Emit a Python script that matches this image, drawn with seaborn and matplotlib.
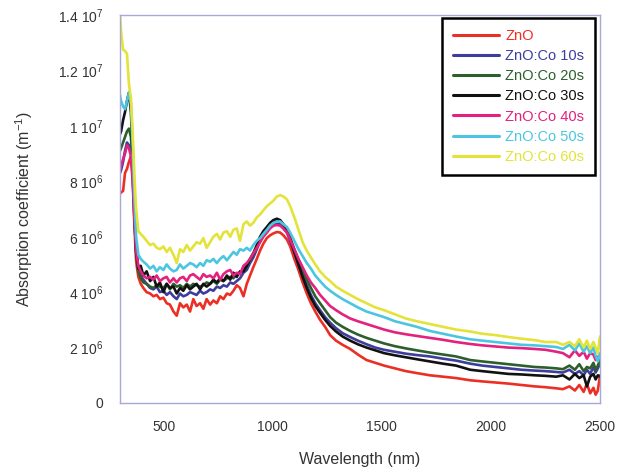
import numpy as np
import pandas as pd
import matplotlib
matplotlib.use("Agg")
import matplotlib.pyplot as plt
import seaborn as sns

# ---------------- data (values in units of 1e6 m^-1) ----------------
wavelength = [300, 305, 314, 323, 332, 341, 350, 358, 366, 374,
              384, 395, 407, 422, 438, 453, 468, 483, 499, 514,
              529, 545, 560, 575, 590, 606, 621, 636, 651, 667,
              682, 697, 713, 728, 744, 759, 774, 790, 805, 820,
              835, 850, 866, 881, 896, 911, 927, 942, 957, 973,
              988, 1003, 1019, 1034, 1049, 1065, 1080, 1099, 1118, 1137,
              1156, 1175, 1195, 1217, 1240, 1263, 1290, 1320, 1355, 1390,
              1430, 1470, 1510, 1560, 1610, 1660, 1720, 1780, 1840, 1905,
              1960, 2020, 2080, 2140, 2200, 2250, 2300, 2330, 2360, 2385,
              2405, 2425, 2440, 2455, 2470, 2480, 2490, 2500]

zno = [7.55, 7.6, 7.65, 8.3, 8.45, 8.7, 8.9, 8.2, 6.4, 5.1,
       4.55, 4.3, 4.15, 4.0, 3.95, 3.85, 3.9, 3.75, 3.8, 3.6,
       3.55, 3.3, 3.15, 3.6, 3.45, 3.55, 3.3, 3.75, 3.5, 3.6,
       3.4, 3.75, 3.55, 3.7, 3.6, 3.85, 3.75, 3.95, 3.9, 4.05,
       4.25, 4.15, 3.85, 4.3, 4.6, 4.9, 5.2, 5.5, 5.75, 5.95,
       6.05, 6.12, 6.17, 6.15, 6.05, 5.9, 5.65, 5.2, 4.8, 4.35,
       3.95, 3.6, 3.3, 3.0, 2.75, 2.45, 2.25, 2.1, 1.95, 1.75,
       1.55, 1.45, 1.35, 1.25, 1.15, 1.08, 1.0, 0.95, 0.9, 0.82,
       0.78, 0.74, 0.7, 0.65, 0.6, 0.57, 0.53, 0.5, 0.6, 0.45,
       0.65, 0.4, 0.7, 0.35, 0.55, 0.3, 0.45, 1.0]

co10 = [8.3, 8.4, 8.7, 9.1, 9.4, 9.3, 9.2, 8.3, 6.7, 5.4,
        4.85, 4.6, 4.45, 4.3, 4.15, 4.1, 4.2, 4.0, 4.05, 3.9,
        4.0, 3.85, 3.75, 3.95, 3.85, 3.9, 4.0, 3.95, 3.9, 4.05,
        3.95, 4.0, 4.1, 4.05, 4.2, 4.15, 4.25, 4.2, 4.35, 4.3,
        4.4, 4.5, 4.7, 4.8, 5.05, 5.25, 5.55, 5.85, 6.05, 6.2,
        6.35, 6.45, 6.47, 6.45, 6.3, 6.15, 5.85, 5.45, 5.0, 4.6,
        4.25, 3.9, 3.6, 3.35, 3.1, 2.9, 2.7, 2.52, 2.38, 2.25,
        2.12, 2.0, 1.92, 1.85, 1.78, 1.73, 1.68, 1.6, 1.53, 1.42,
        1.35, 1.3, 1.25, 1.2, 1.17, 1.15, 1.12, 1.1, 1.2, 1.05,
        1.15, 1.0, 1.2, 1.05, 1.3, 1.1, 1.25, 1.4]

co20 = [9.1, 9.2, 9.4, 9.6, 9.8, 9.9, 9.6, 8.6, 6.8, 5.4,
        4.75, 4.5, 4.35, 4.3, 4.2, 4.15, 4.25, 4.2, 4.15, 4.3,
        4.1, 4.3, 4.2, 4.25, 4.15, 4.3, 4.2, 4.3, 4.25, 4.2,
        4.25, 4.35, 4.3, 4.4, 4.3, 4.45, 4.4, 4.5, 4.55, 4.5,
        4.65, 4.7, 4.8, 4.95, 5.15, 5.35, 5.6, 5.9, 6.1, 6.25,
        6.4, 6.5, 6.58, 6.55, 6.4, 6.25, 5.95, 5.55, 5.15, 4.8,
        4.45, 4.15, 3.85, 3.6, 3.35, 3.1, 2.9, 2.75, 2.6, 2.47,
        2.35, 2.25, 2.15, 2.05, 1.97, 1.9, 1.82, 1.75, 1.68, 1.55,
        1.5, 1.45, 1.4, 1.35, 1.3, 1.28, 1.25, 1.22, 1.35, 1.2,
        1.4, 1.15, 1.3, 1.25, 1.45, 1.2, 1.35, 1.55]

co30 = [9.7, 9.8, 10.2, 10.5, 10.9, 11.2, 10.5, 9.0, 7.0, 5.5,
        4.85, 4.95, 4.6, 4.75, 4.4, 4.55, 4.2, 4.35, 4.0, 4.3,
        4.15, 4.2, 3.95, 4.15, 4.05, 4.25, 4.1, 4.2, 4.3, 4.1,
        4.3, 4.2, 4.3, 4.45, 4.35, 4.5, 4.4, 4.6, 4.45, 4.7,
        4.55, 4.75, 4.75, 4.95, 5.2, 5.4, 5.7, 6.0, 6.2, 6.35,
        6.5, 6.6, 6.65, 6.6, 6.45, 6.25, 5.95, 5.45, 5.0, 4.55,
        4.15, 3.8, 3.5, 3.25, 3.0, 2.78, 2.58, 2.4, 2.25, 2.12,
        2.0, 1.9, 1.8, 1.72, 1.65, 1.58, 1.5, 1.42, 1.35, 1.2,
        1.15, 1.1, 1.05, 1.03, 1.0, 0.98, 0.95, 1.0, 0.85, 1.05,
        0.9, 1.0, 0.6, 0.95, 1.05, 0.85, 1.0, 0.95]

co40 = [8.4, 8.55, 8.8, 9.0, 9.3, 9.2, 8.9, 8.0, 6.6, 5.5,
        4.95, 4.75, 4.6, 4.5, 4.55, 4.45, 4.6, 4.4, 4.5, 4.55,
        4.35, 4.5, 4.35, 4.5, 4.55, 4.4, 4.6, 4.65, 4.55, 4.45,
        4.65, 4.55, 4.6, 4.5, 4.7, 4.45, 4.65, 4.75, 4.8, 4.6,
        4.7, 4.65, 4.95, 5.05, 5.2, 5.4, 5.6, 5.8, 6.0, 6.15,
        6.3, 6.4, 6.42, 6.4, 6.3, 6.15, 5.9, 5.55, 5.2, 4.9,
        4.6, 4.35, 4.15, 3.9, 3.7, 3.5, 3.35, 3.2, 3.05, 2.95,
        2.85, 2.75, 2.65, 2.55, 2.48, 2.42, 2.35, 2.28, 2.2, 2.13,
        2.08, 2.04, 2.0, 1.98, 1.95, 1.92, 1.85, 1.8, 1.65, 1.9,
        1.7, 1.85, 1.6, 1.8, 1.75, 1.55, 1.65, 1.75]

co50 = [11.1, 10.9, 10.7, 10.6, 10.9, 11.2, 10.8, 9.3, 7.4, 6.0,
        5.35, 5.2, 5.1, 5.0, 4.85, 4.95, 4.75, 4.9, 4.8, 5.0,
        4.85, 4.75, 4.8, 5.0, 4.85, 4.95, 5.05, 5.0, 4.9, 5.05,
        4.95, 5.15, 5.1, 5.2, 5.05, 5.2, 5.3, 5.15, 5.3, 5.45,
        5.35, 5.55, 5.5, 5.6, 5.5, 5.7, 5.85, 5.95, 6.1, 6.25,
        6.4, 6.5, 6.55, 6.55, 6.45, 6.35, 6.15, 5.85, 5.55, 5.3,
        5.05, 4.85, 4.6, 4.4, 4.2, 4.05, 3.9, 3.75, 3.6, 3.45,
        3.3, 3.2, 3.1, 2.95, 2.85, 2.75, 2.6, 2.5, 2.4, 2.3,
        2.25, 2.2, 2.15, 2.1, 2.08, 2.05, 2.02, 1.95, 2.1, 1.9,
        2.15, 1.85, 2.05, 1.8, 2.0, 1.7, 1.5, 1.8]

co60 = [14.0, 13.4, 12.75, 12.7, 12.6, 11.5, 11.0, 9.8, 8.2, 7.0,
        6.2, 6.1, 6.0, 5.85, 5.7, 5.75, 5.6, 5.55, 5.65, 5.45,
        5.6, 5.35, 5.05, 5.55, 5.45, 5.7, 5.5, 5.65, 5.8, 5.75,
        5.95, 5.6, 5.8, 6.0, 6.1, 5.9, 6.15, 6.2, 6.0, 6.25,
        6.3, 5.85, 6.45, 6.55, 6.4, 6.5, 6.7, 6.8, 6.95, 7.1,
        7.2, 7.3, 7.45, 7.5, 7.45, 7.35, 7.1, 6.7, 6.25, 5.8,
        5.5, 5.25, 5.0, 4.75, 4.55, 4.4, 4.2, 4.05, 3.9, 3.75,
        3.6, 3.45, 3.35, 3.2, 3.05, 2.95, 2.85, 2.75, 2.65, 2.58,
        2.5, 2.45, 2.38, 2.32, 2.27, 2.2, 2.2, 2.1, 2.2, 2.05,
        2.3, 2.0, 2.25, 1.95, 2.2, 2.0, 1.8, 2.4]

series_names = ["ZnO", "ZnO:Co 10s", "ZnO:Co 20s", "ZnO:Co 30s",
                "ZnO:Co 40s", "ZnO:Co 50s", "ZnO:Co 60s"]
series_values = [zno, co10, co20, co30, co40, co50, co60]
series_colors = ["#ec2f24", "#3d3d9e", "#2c5f2c", "#111111",
                 "#e3217e", "#4cc6e0", "#e3e33a"]

x_ticks = [500, 1000, 1500, 2000, 2500]
y_ticks = [0, 2e6, 4e6, 6e6, 8e6, 1e7, 1.2e7, 1.4e7]
y_tick_labels = ["0", r"2 10$^{6}$", r"4 10$^{6}$", r"6 10$^{6}$",
                 r"8 10$^{6}$", r"1 10$^{7}$", r"1.2 10$^{7}$", r"1.4 10$^{7}$"]

# ---------------- build long table ----------------
frames = []
for name, vals in zip(series_names, series_values):
    frames.append(pd.DataFrame({"Wavelength": wavelength,
                                "Absorption": np.array(vals) * 1e6,
                                "Sample": name}))
df = pd.concat(frames, ignore_index=True)

# ---------------- style ----------------
sns.set_style("white")
plt.rcParams["font.family"] = ["Liberation Sans", "DejaVu Sans"]
plt.rcParams["mathtext.fontset"] = "custom"
plt.rcParams["mathtext.rm"] = "Liberation Sans"
plt.rcParams["mathtext.it"] = "Liberation Sans"
plt.rcParams["mathtext.default"] = "regular"

fig = plt.figure(figsize=(6.18, 4.70), dpi=100)
ax = fig.add_axes([120 / 618, 67 / 470, 480 / 618, 388 / 470])

palette = dict(zip(series_names, series_colors))
sns.lineplot(data=df, x="Wavelength", y="Absorption", hue="Sample",
             hue_order=series_names, palette=palette, linewidth=1.9,
             estimator=None, sort=False, ax=ax)

ax.set_xlim(300, 2500)
ax.set_ylim(0, 1.4e7)
ax.set_xticks(x_ticks)
ax.set_xticklabels([str(t) for t in x_ticks])
ax.set_yticks(y_ticks)
ax.set_yticklabels(y_tick_labels)
ax.tick_params(axis="both", length=0, labelsize=10, colors="#333333")
ax.tick_params(axis="y", pad=12)
ax.tick_params(axis="x", pad=12)

for sp in ax.spines.values():
    sp.set_color("#a8a8d8")
    sp.set_linewidth(1.0)

ax.set_xlabel("Wavelength (nm)", fontsize=11.5, color="#333333", labelpad=13)
ax.set_ylabel(r"Absorption coefficient (m$^{-1}$)", fontsize=11.5,
              color="#333333", labelpad=16)

handles, labels = ax.get_legend_handles_labels()
leg = ax.legend(handles, labels, loc="upper right",
                bbox_to_anchor=(0.99, 0.992), borderaxespad=0,
                fontsize=10.5, handlelength=3.2, handletextpad=0.4,
                labelspacing=0.42, borderpad=0.75, fancybox=False,
                frameon=True, framealpha=1)
leg.get_frame().set_edgecolor("black")
leg.get_frame().set_linewidth(1.8)
for txt, col in zip(leg.get_texts(), series_colors):
    txt.set_color(col)
for ln in leg.get_lines():
    ln.set_linewidth(2.2)

fig.savefig("out.png", dpi=100)
